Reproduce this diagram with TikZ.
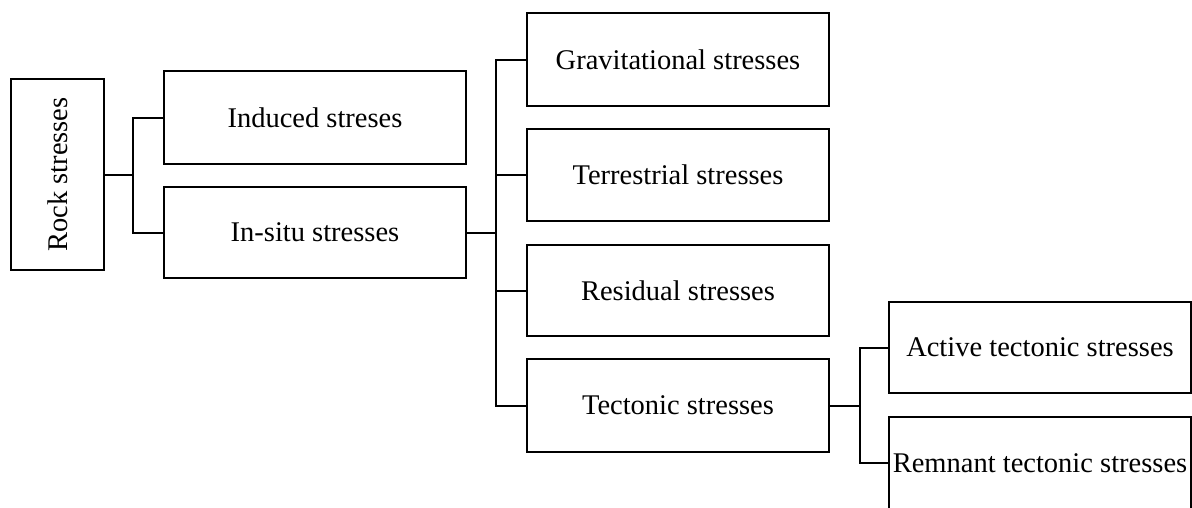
\documentclass[tikz,border=0pt]{standalone}
\usepackage{fontspec}
\setmainfont{Liberation Serif}
\begin{document}
\begin{tikzpicture}[x=1pt,y=-1pt,
  box/.style={draw,line width=2pt,inner sep=0pt,minimum width=302pt,align=center,
    font=\fontsize{28.5}{34}\selectfont},
  conn/.style={line width=2pt,line join=miter}]
\useasboundingbox (0,0) rectangle (1192,507);
\node[box,minimum width=93pt,minimum height=191pt] (rock) at (57.5,174.5) {\rotatebox{90}{Rock stresses}};
\node[box,minimum height=93pt] (induced) at (315,117.5) {Induced streses};
\node[box,minimum height=91pt] (insitu) at (315,232.5) {In-situ stresses};
\node[box,minimum height=93pt] (grav) at (678,59.5) {Gravitational stresses};
\node[box,minimum height=92pt] (terr) at (678,175) {Terrestrial stresses};
\node[box,minimum height=91pt] (resid) at (678,290.5) {Residual stresses};
\node[box,minimum height=93pt] (tect) at (678,405.5) {Tectonic stresses};
\node[box,minimum height=91pt] (active) at (1040,347.5) {Active tectonic stresses};
\node[box,minimum height=92pt] (remnant) at (1040,463) {Remnant tectonic stresses};
\coordinate (b1) at (133,175);
\coordinate (b2) at (496,233);
\coordinate (b3) at (860,405.5);
\draw[conn] (rock.east) -- (b1 |- rock.east);
\draw[conn] (induced.west) -| (b1) |- (insitu.west);
\draw[conn] (insitu.east) -- (b2 |- insitu.east);
\draw[conn] (grav.west) -| (b2) |- (tect.west);
\draw[conn] (terr.west) -- (terr.west -| b2);
\draw[conn] (resid.west) -- (resid.west -| b2);
\draw[conn] (tect.east) -- (b3 |- tect.east);
\draw[conn] (active.west) -| (b3) |- (remnant.west);
\end{tikzpicture}
\end{document}
